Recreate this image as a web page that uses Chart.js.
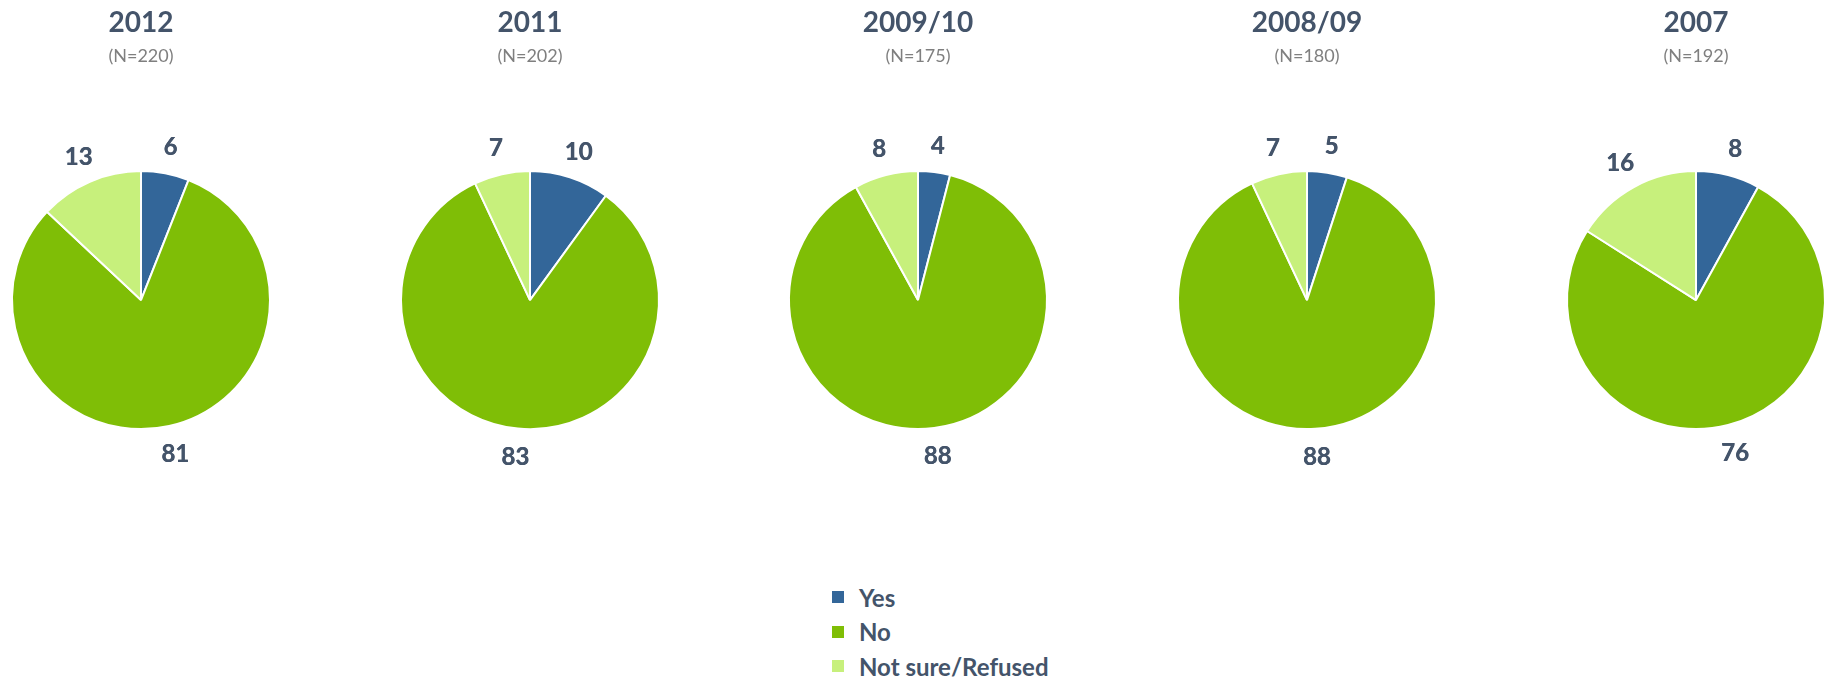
<!DOCTYPE html>
<html>
<head>
<meta charset="utf-8">
<script src="https://cdn.jsdelivr.net/npm/chart.js@4/dist/chart.umd.min.js"></script>
<style>
  html, body { margin: 0; padding: 0; background: #ffffff; }
  body { width: 1831px; height: 680px; position: relative; overflow: hidden; font-family: Lato, "Open Sans", sans-serif; }
  .pie { position: absolute; top: 0; width: 300px; height: 480px; }
  .pie canvas { display: block; }
  #legend { position: absolute; left: 832px; top: 580px; }
  .li { height: 34.5px; display: flex; align-items: center; font-weight: bold; font-size: 24px; color: #44546a; }
  .sw { width: 12px; height: 12px; margin-right: 15px; }
</style>
</head>
<body>
<div class="pie" style="left:-9px"><canvas id="c0" width="300" height="480"></canvas></div>
<div class="pie" style="left:380px"><canvas id="c1" width="300" height="480"></canvas></div>
<div class="pie" style="left:768px"><canvas id="c2" width="300" height="480"></canvas></div>
<div class="pie" style="left:1157px"><canvas id="c3" width="300" height="480"></canvas></div>
<div class="pie" style="left:1546px"><canvas id="c4" width="300" height="480"></canvas></div>
<div id="legend"></div>
<script>
const categories = ["Yes", "No", "Not sure/Refused"];
const periods = ["2012", "2011", "2009/10", "2008/09", "2007"];
const sampleSizes = ["(N=220)", "(N=202)", "(N=175)", "(N=180)", "(N=192)"];
const yesValues = [6, 10, 4, 5, 8];
const noValues = [81, 83, 88, 88, 76];
const notSureValues = [13, 7, 8, 7, 16];
const colors = ["#336699", "#7fbe06", "#c7f07c"];
const textColor = "#44546a";

const outsideLabels = {
  id: "outsideLabels",
  afterDatasetsDraw(chart) {
    const ctx = chart.ctx;
    const meta = chart.getDatasetMeta(0);
    const data = chart.data.datasets[0].data;
    ctx.save();
    ctx.font = "bold 24px Lato, 'Open Sans', sans-serif";
    ctx.fillStyle = textColor;
    ctx.textAlign = "center";
    ctx.textBaseline = "middle";
    meta.data.forEach((arc, i) => {
      const p = arc.getProps(["x", "y", "startAngle", "endAngle", "outerRadius"], true);
      const mid = (p.startAngle + p.endAngle) / 2;
      const cx = Math.cos(mid), sy = Math.sin(mid);
      const txt = String(data[i]);
      const w = ctx.measureText(txt).width, h = 17;
      const ex = Math.abs(cx) > 1e-6 ? (w / 2) / Math.abs(cx) : Infinity;
      const ey = Math.abs(sy) > 1e-6 ? (h / 2) / Math.abs(sy) : Infinity;
      const d = p.outerRadius + 19 + Math.min(ex, ey);
      ctx.fillText(txt, p.x + cx * d, p.y + sy * d + 1);
      ctx.fillText(txt, p.x + cx * d + 0.4, p.y + sy * d + 1);
    });
    ctx.restore();
  }
};

periods.forEach((period, k) => {
  new Chart(document.getElementById("c" + k), {
    type: "pie",
    data: {
      labels: categories,
      datasets: [{
        data: [yesValues[k], noValues[k], notSureValues[k]],
        backgroundColor: colors,
        borderColor: "#ffffff",
        borderWidth: 2
      }]
    },
    options: {
      responsive: false,
      animation: false,
      radius: 129,
      layout: { padding: { top: 0, bottom: 6, left: 0, right: 0 } },
      plugins: {
        legend: { display: false },
        tooltip: { enabled: false },
        title: {
          display: true, text: period, color: textColor,
          font: { family: "Lato, 'Open Sans', sans-serif", size: 28, weight: "bold" },
          padding: { top: 6, bottom: 3 }
        },
        subtitle: {
          display: true, text: sampleSizes[k], color: "#7f7f7f",
          font: { family: "Lato, 'Open Sans', sans-serif", size: 18 },
          padding: { top: 3, bottom: 59 }
        }
      }
    },
    plugins: [outsideLabels]
  });
});

const legend = document.getElementById("legend");
categories.forEach((c, i) => {
  const row = document.createElement("div");
  row.className = "li";
  const sw = document.createElement("span");
  sw.className = "sw";
  sw.style.background = colors[i];
  const t = document.createElement("span");
  t.textContent = c;
  row.appendChild(sw); row.appendChild(t);
  legend.appendChild(row);
});
</script>
</body>
</html>
